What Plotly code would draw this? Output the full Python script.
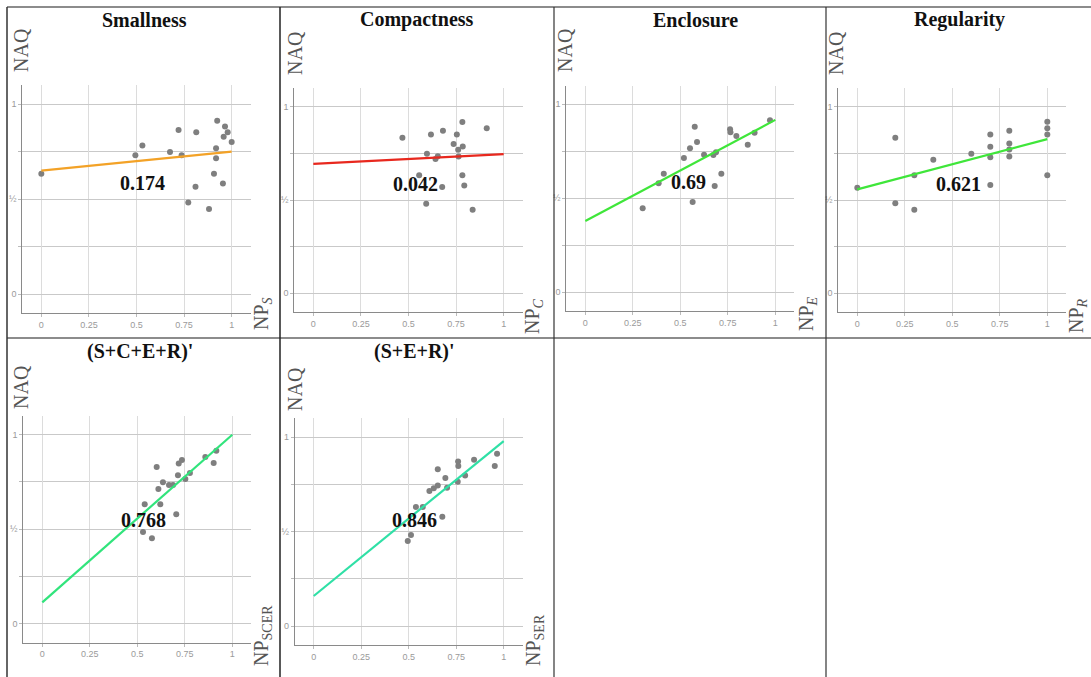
import plotly.graph_objects as go

W, H = 1091, 677

# ---------------- data ----------------
titles = ["Smallness", "Compactness", "Enclosure", "Regularity", "(S+C+E+R)'", "(S+E+R)'"]
x_titles = ["NP<sub><i>S</i></sub>", "NP<sub><i>C</i></sub>", "NP<sub><i>E</i></sub>",
            "NP<sub><i>R</i></sub>", "NP<sub>SCER</sub>", "NP<sub>SER</sub>"]
r_values = ["0.174", "0.042", "0.69", "0.621", "0.768", "0.846"]

x_tick_vals = [0, 0.25, 0.5, 0.75, 1]
x_tick_text = ["0", "0.25", "0.5", "0.75", "1"]
y_tick_vals = [0, 0.5, 1]
y_tick_text = ["0", "½", "1"]
y_minor_vals = [0.25, 0.75]

s_x = [0.0, 0.494, 0.531, 0.676, 0.721, 0.737, 0.814, 0.772, 0.810, 0.881,
       0.907, 0.918, 0.918, 0.924, 0.954, 0.958, 0.965, 0.979, 1.0]
s_y = [0.633, 0.730, 0.781, 0.747, 0.863, 0.730, 0.851, 0.481, 0.565, 0.447,
       0.633, 0.767, 0.714, 0.912, 0.582, 0.828, 0.881, 0.851, 0.800]

c_x = [0.468, 0.556, 0.593, 0.597, 0.618, 0.642, 0.654, 0.681, 0.677, 0.737,
       0.754, 0.761, 0.763, 0.783, 0.785, 0.783, 0.793, 0.837, 0.911]
c_y = [0.834, 0.632, 0.480, 0.748, 0.851, 0.719, 0.735, 0.871, 0.569, 0.800,
       0.851, 0.769, 0.733, 0.918, 0.786, 0.632, 0.578, 0.448, 0.884]

e_x = [0.302, 0.386, 0.413, 0.519, 0.551, 0.565, 0.576, 0.588, 0.625, 0.674,
       0.681, 0.688, 0.716, 0.762, 0.764, 0.795, 0.855, 0.891, 0.972]
e_y = [0.447, 0.580, 0.631, 0.714, 0.766, 0.480, 0.881, 0.799, 0.732, 0.730,
       0.565, 0.745, 0.631, 0.867, 0.851, 0.831, 0.785, 0.849, 0.915]

r_x = [0.0, 0.2, 0.2, 0.3, 0.3, 0.4, 0.6, 0.7, 0.7, 0.7,
       0.7, 0.8, 0.8, 0.8, 0.8, 1.0, 1.0, 1.0, 1.0]
r_y = [0.566, 0.834, 0.482, 0.632, 0.448, 0.716, 0.748, 0.851, 0.785, 0.729,
       0.580, 0.871, 0.803, 0.771, 0.733, 0.919, 0.885, 0.851, 0.632]

scer_x = [0.530, 0.539, 0.577, 0.602, 0.611, 0.621, 0.635, 0.667, 0.688, 0.705,
          0.714, 0.718, 0.735, 0.753, 0.777, 0.858, 0.902, 0.916]
scer_y = [0.485, 0.632, 0.452, 0.829, 0.713, 0.632, 0.748, 0.734, 0.734, 0.579,
          0.785, 0.847, 0.866, 0.766, 0.798, 0.882, 0.850, 0.915]

ser_x = [0.495, 0.512, 0.538, 0.574, 0.609, 0.632, 0.653, 0.653, 0.677, 0.693,
         0.702, 0.758, 0.760, 0.761, 0.797, 0.844, 0.953, 0.965]
ser_y = [0.450, 0.482, 0.631, 0.631, 0.715, 0.730, 0.830, 0.745, 0.579, 0.784,
         0.733, 0.765, 0.871, 0.848, 0.798, 0.881, 0.848, 0.913]

fit_x = [0, 1]
s_fit = [0.649, 0.749]
c_fit = [0.694, 0.746]
e_fit = [0.379, 0.917]
r_fit = [0.557, 0.826]
scer_fit = [0.113, 1.0]
ser_fit = [0.159, 0.980]

points_x = [s_x, c_x, e_x, r_x, scer_x, ser_x]
points_y = [s_y, c_y, e_y, r_y, scer_y, ser_y]
fits = [s_fit, c_fit, e_fit, r_fit, scer_fit, ser_fit]

# ---------------- styles / layout ----------------
line_colors = ["#f3a227", "#e8281e", "#3fe63a", "#3fe63a", "#31e47c", "#2fe0a6"]

# plot area in pixels: (left, right, top, bottom)
panel_px = [
    (22.3, 250.7, 85.0, 313.0),
    (294.3, 522.7, 88.0, 312.0),
    (566.3, 794.3, 85.5, 311.1),
    (838.3, 1066.3, 88.0, 312.0),
    (23.3, 251.3, 415.8, 642.6),
    (294.7, 522.7, 418.4, 644.9),
]
title_px = [(144, 20), (417, 20), (695, 20), (959, 20), (140, 352), (414, 352)]
naq_px = [(21, 50), (295, 53), (565, 50), (836, 53), (21, 387), (295, 389)]
np_px = [(262, 314), (533, 316), (807, 314), (1077, 316), (262, 636), (534, 640)]
r_pos = [(0.534, 0.584), (0.535, 0.585), (0.542, 0.585), (0.535, 0.584), (0.532, 0.549), (0.533, 0.562)]

SERIF = "Liberation Serif"

fig = go.Figure()
layout = dict(
    width=W, height=H, autosize=False,
    margin=dict(l=0, r=0, t=0, b=0),
    paper_bgcolor="white", plot_bgcolor="white",
    showlegend=False,
)
annotations = []
shapes = []

for i in range(6):
    n = "" if i == 0 else str(i + 1)
    xa, ya = "x" + n, "y" + n
    l, r, t, b = panel_px[i]
    layout["xaxis" + n] = dict(
        domain=[l / W, r / W], range=[-0.1, 1.1], anchor=ya,
        tickvals=x_tick_vals, ticktext=x_tick_text,
        tickfont=dict(size=9, color="#9a9a9a", family="Liberation Sans"),
        showgrid=True, gridcolor="#dcdcdc", gridwidth=1,
        zeroline=False, showline=True, linecolor="#8a8a8a", linewidth=1,
        ticks="outside", ticklen=3, tickcolor="#bbbbbb", fixedrange=True,
    )
    layout["yaxis" + n] = dict(
        domain=[1 - b / H, 1 - t / H], range=[-0.1, 1.1], anchor=xa,
        tickvals=y_tick_vals, ticktext=y_tick_text,
        tickfont=dict(size=9, color="#9a9a9a", family="Liberation Sans"),
        showgrid=True, gridcolor="#c9c9c9", gridwidth=1,
        minor=dict(tickvals=y_minor_vals, showgrid=True, gridcolor="#c9c9c9",
                   gridwidth=1, ticks="outside", ticklen=3, tickcolor="#bbbbbb"),
        zeroline=False, showline=True, linecolor="#8a8a8a", linewidth=1,
        ticks="outside", ticklen=3, tickcolor="#bbbbbb", fixedrange=True,
    )
    fig.add_trace(go.Scatter(
        x=points_x[i], y=points_y[i], mode="markers", xaxis=xa, yaxis=ya,
        marker=dict(size=6, color="#7f7f7f"),
    ))
    fig.add_trace(go.Scatter(
        x=fit_x, y=fits[i], mode="lines", xaxis=xa, yaxis=ya,
        line=dict(color=line_colors[i], width=2.2),
    ))
    annotations.append(dict(
        x=r_pos[i][0], y=r_pos[i][1], xref=xa, yref=ya, text="<b>%s</b>" % r_values[i],
        xanchor="center", yanchor="middle",
        showarrow=False, font=dict(family=SERIF, size=20, color="#111111"),
    ))
    tx, ty = title_px[i]
    annotations.append(dict(
        x=tx / W, y=1 - ty / H, xref="paper", yref="paper", text="<b>%s</b>" % titles[i],
        xanchor="center", yanchor="middle",
        showarrow=False, font=dict(family=SERIF, size=20, color="#111111"),
    ))
    nx, ny = naq_px[i]
    annotations.append(dict(
        x=nx / W, y=1 - ny / H, xref="paper", yref="paper", text="NAQ", textangle=-90,
        xanchor="center", yanchor="middle",
        showarrow=False, font=dict(family=SERIF, size=20, color="#555555"),
    ))
    px_, py_ = np_px[i]
    annotations.append(dict(
        x=px_ / W, y=1 - py_ / H, xref="paper", yref="paper", text=x_titles[i], textangle=-90,
        xanchor="center", yanchor="middle",
        showarrow=False, font=dict(family=SERIF, size=20, color="#555555"),
    ))

# table borders
def hline(y, x0, x1, color, width):
    shapes.append(dict(type="line", xref="paper", yref="paper",
                       x0=x0 / W, x1=x1 / W, y0=1 - y / H, y1=1 - y / H,
                       line=dict(color=color, width=width)))

def vline(x, y0, y1, color, width):
    shapes.append(dict(type="line", xref="paper", yref="paper",
                       x0=x / W, x1=x / W, y0=1 - y0 / H, y1=1 - y1 / H,
                       line=dict(color=color, width=width)))

hline(7, 7, W, "#8c8c8c", 2)
hline(338, 7, W, "#8c8c8c", 2)
vline(7, 7, H, "#333333", 1.5)
vline(280, 7, H, "#222222", 1.5)
vline(554, 7, H, "#333333", 1.2)
vline(826, 7, H, "#333333", 1.2)

layout["annotations"] = annotations
layout["shapes"] = shapes
fig.update_layout(**layout)
fig.write_html("out.html", config={"displayModeBar": False},
               post_script="document.body.style.margin='0';document.body.style.padding='0';")
